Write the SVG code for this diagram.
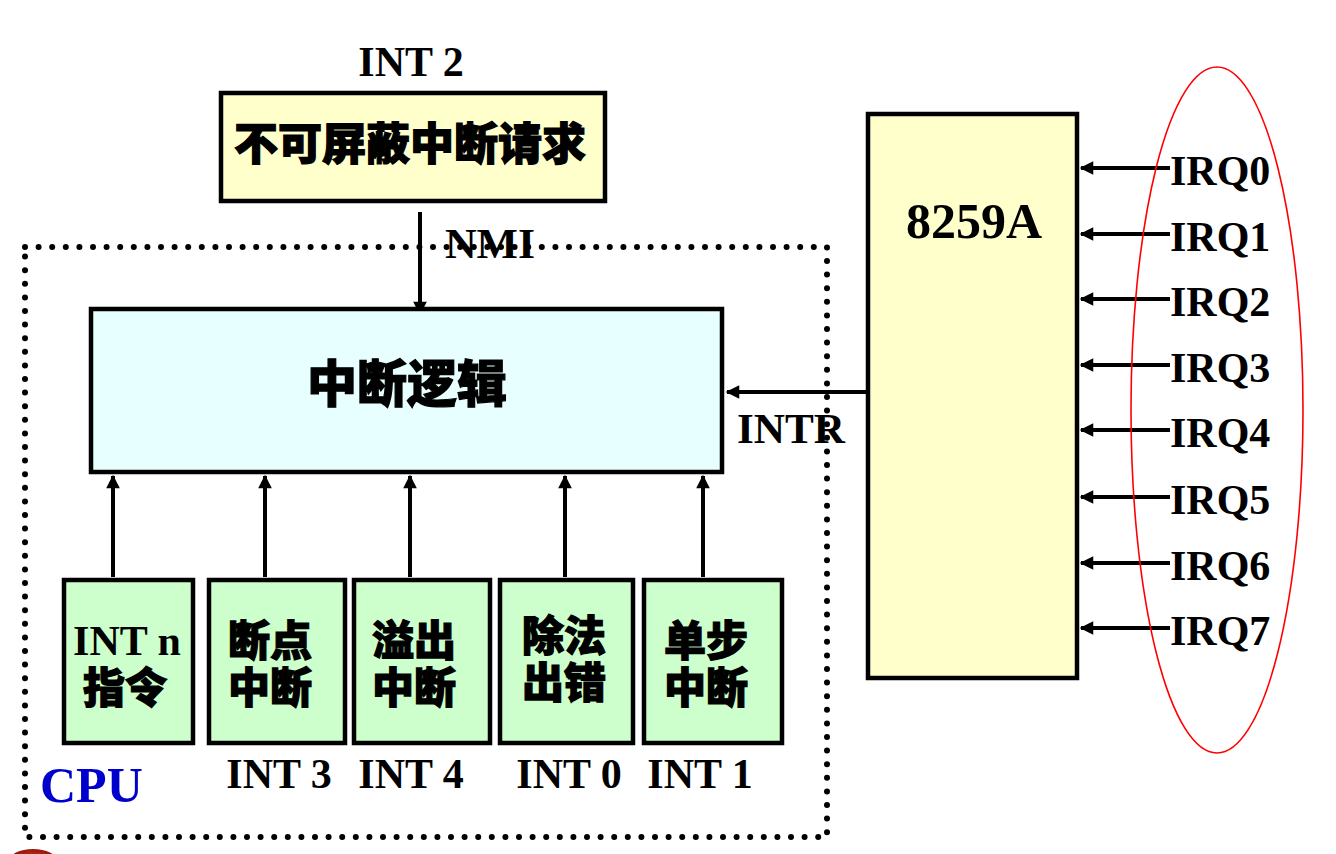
<svg xmlns="http://www.w3.org/2000/svg" width="1336" height="854" viewBox="0 0 1336 854">
<defs>
<style>
.box{stroke:#000;stroke-width:4.5}
.yel{fill:#FFFFCC}
.cyan{fill:#E8FFFF}
.grn{fill:#CCFFCC}
.t{font-family:"Liberation Serif","Times New Roman",serif;font-weight:bold;fill:#000}
.c{font-family:"Noto Sans CJK SC","Noto Sans",sans-serif;font-weight:900;fill:#000;stroke:#000;stroke-width:1.2}
.line{stroke:#000;stroke-width:4;fill:none}
</style>
<marker id="ah" viewBox="0 0 10 10" refX="9" refY="5" markerWidth="3.6" markerHeight="3.4" orient="auto" markerUnits="strokeWidth">
<path d="M0,0 L10,5 L0,10 z" fill="#000"/>
</marker>
<radialGradient id="rg" cx="0.5" cy="0.4" r="0.6">
<stop offset="0" stop-color="#d03020"/>
<stop offset="1" stop-color="#7a0a05"/>
</radialGradient>
</defs>
<rect width="1336" height="854" fill="#fff"/>
<ellipse cx="33" cy="861" rx="24" ry="12" fill="url(#rg)"/>

<g id="cpu">
<rect x="25" y="247" width="802" height="590" fill="none" stroke="#000" stroke-width="6" stroke-linecap="round" stroke-dasharray="0 13.6"/>
<text x="40" y="802" class="t" style="fill:#0000CC" font-size="50">CPU</text>
</g>

<g id="connectors">
<line x1="420" y1="212" x2="420" y2="314" class="line" marker-end="url(#ah)"/>
<line x1="868" y1="392" x2="727" y2="392" class="line" marker-end="url(#ah)"/>
<line x1="113" y1="577" x2="113" y2="476" class="line" marker-end="url(#ah)"/>
<line x1="265" y1="577" x2="265" y2="476" class="line" marker-end="url(#ah)"/>
<line x1="410" y1="577" x2="410" y2="476" class="line" marker-end="url(#ah)"/>
<line x1="565" y1="577" x2="565" y2="476" class="line" marker-end="url(#ah)"/>
<line x1="703" y1="577" x2="703" y2="476" class="line" marker-end="url(#ah)"/>
<line x1="1170" y1="168" x2="1081" y2="168" class="line" marker-end="url(#ah)"/>
<line x1="1170" y1="234" x2="1081" y2="234" class="line" marker-end="url(#ah)"/>
<line x1="1170" y1="299" x2="1081" y2="299" class="line" marker-end="url(#ah)"/>
<line x1="1170" y1="365" x2="1081" y2="365" class="line" marker-end="url(#ah)"/>
<line x1="1170" y1="430" x2="1081" y2="430" class="line" marker-end="url(#ah)"/>
<line x1="1170" y1="497" x2="1081" y2="497" class="line" marker-end="url(#ah)"/>
<line x1="1170" y1="563" x2="1081" y2="563" class="line" marker-end="url(#ah)"/>
<line x1="1170" y1="628" x2="1081" y2="628" class="line" marker-end="url(#ah)"/>
<text x="490" y="258" class="t" font-size="42" text-anchor="middle" textLength="90" lengthAdjust="spacingAndGlyphs">NMI</text>
<text x="737" y="443" class="t" font-size="42" textLength="108" lengthAdjust="spacingAndGlyphs">INTR</text>
</g>

<g id="nmi-box">
<text x="411" y="76" class="t" font-size="42" text-anchor="middle">INT 2</text>
<rect x="221" y="93" width="384" height="108" class="box yel"/>
<text x="410" y="160" class="c" font-size="44" text-anchor="middle">不可屏蔽中断请求</text>
</g>

<g id="logic">
<rect x="91" y="309" width="631" height="163" class="box cyan"/>
<text x="407" y="402" class="c" font-size="50" text-anchor="middle">中断逻辑</text>
</g>

<g id="i8259">
<rect x="868" y="114" width="209" height="564" class="box yel"/>
<text x="974" y="238" class="t" font-size="50" text-anchor="middle">8259A</text>
</g>

<g id="irq">
<text x="1170" y="185" class="t" font-size="42">IRQ0</text>
<text x="1170" y="251" class="t" font-size="42">IRQ1</text>
<text x="1170" y="316" class="t" font-size="42">IRQ2</text>
<text x="1170" y="382" class="t" font-size="42">IRQ3</text>
<text x="1170" y="447" class="t" font-size="42">IRQ4</text>
<text x="1170" y="514" class="t" font-size="42">IRQ5</text>
<text x="1170" y="580" class="t" font-size="42">IRQ6</text>
<text x="1170" y="645" class="t" font-size="42">IRQ7</text>
<ellipse cx="1217" cy="410" rx="86" ry="343" fill="none" stroke="#FF0000" stroke-width="1.6"/>
</g>

<g id="intn">
<rect x="64" y="580" width="129" height="163" class="box grn"/>
<text x="127" y="655" class="t" font-size="42" text-anchor="middle">INT n</text>
<text x="125" y="703" class="c" font-size="42" text-anchor="middle">指令</text>
</g>

<g id="int3">
<rect x="209" y="580" width="136" height="163" class="box grn"/>
<text x="270" y="656" class="c" font-size="42" text-anchor="middle">断点</text>
<text x="270" y="703" class="c" font-size="42" text-anchor="middle">中断</text>
<text x="279" y="788" class="t" font-size="42" text-anchor="middle">INT 3</text>
</g>

<g id="int4">
<rect x="354" y="580" width="136" height="163" class="box grn"/>
<text x="414" y="656" class="c" font-size="42" text-anchor="middle">溢出</text>
<text x="414" y="703" class="c" font-size="42" text-anchor="middle">中断</text>
<text x="411" y="788" class="t" font-size="42" text-anchor="middle">INT 4</text>
</g>

<g id="int0">
<rect x="500" y="580" width="133" height="163" class="box grn"/>
<text x="564" y="651" class="c" font-size="42" text-anchor="middle">除法</text>
<text x="564" y="698" class="c" font-size="42" text-anchor="middle">出错</text>
<text x="569" y="788" class="t" font-size="42" text-anchor="middle">INT 0</text>
</g>

<g id="int1">
<rect x="644" y="580" width="138" height="163" class="box grn"/>
<text x="706" y="656" class="c" font-size="42" text-anchor="middle">单步</text>
<text x="706" y="703" class="c" font-size="42" text-anchor="middle">中断</text>
<text x="700" y="788" class="t" font-size="42" text-anchor="middle">INT 1</text>
</g>
</svg>
